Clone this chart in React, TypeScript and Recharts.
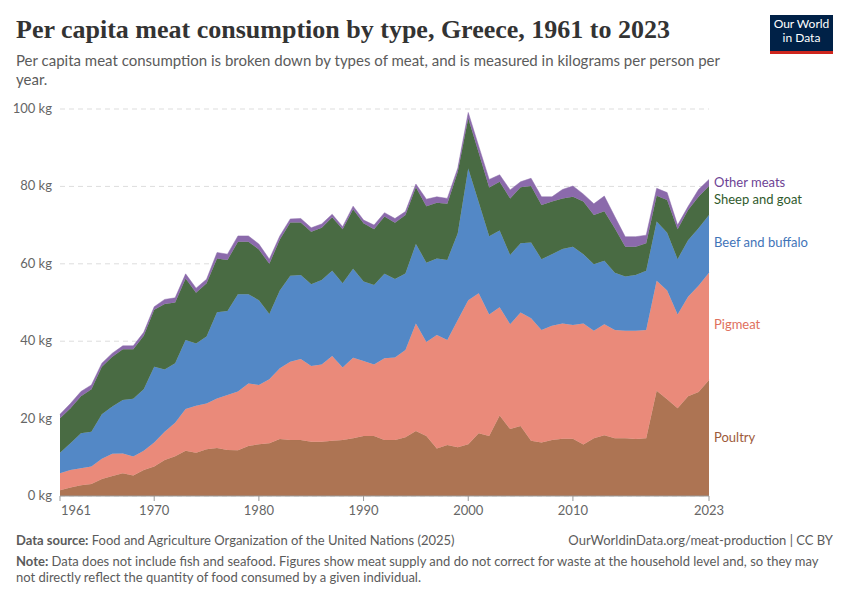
import { AreaChart, Area, XAxis, YAxis, CartesianGrid } from "recharts";

const years = [
  1961, 1962, 1963, 1964, 1965, 1966, 1967, 1968, 1969, 1970,
  1971, 1972, 1973, 1974, 1975, 1976, 1977, 1978, 1979, 1980,
  1981, 1982, 1983, 1984, 1985, 1986, 1987, 1988, 1989, 1990,
  1991, 1992, 1993, 1994, 1995, 1996, 1997, 1998, 1999, 2000,
  2001, 2002, 2003, 2004, 2005, 2006, 2007, 2008, 2009, 2010,
  2011, 2012, 2013, 2014, 2015, 2016, 2017, 2018, 2019, 2020,
  2021, 2022, 2023,
];

// kg per person per year
const poultry = [
  1.5, 2.2, 2.8, 3.1, 4.4, 5.2, 5.9, 5.3, 6.7, 7.6,
  9.3, 10.3, 11.7, 11.2, 12.1, 12.4, 11.9, 11.8, 12.9, 13.4,
  13.6, 14.7, 14.5, 14.5, 14.0, 14.0, 14.3, 14.5, 14.9, 15.5,
  15.5, 14.5, 14.5, 15.2, 16.8, 15.5, 12.3, 13.2, 12.6, 13.4,
  16.2, 15.5, 20.8, 17.3, 18.1, 14.3, 13.8, 14.5, 14.8, 14.8,
  13.3, 14.9, 15.7, 14.9, 14.9, 14.7, 14.9, 27.2, 25.0, 22.7,
  25.8, 26.9, 30.0,
];

const pigmeat = [
  4.4, 4.5, 4.4, 4.5, 5.2, 5.7, 5.1, 4.9, 5.0, 6.2,
  7.3, 8.6, 10.8, 12.1, 11.8, 12.8, 14.2, 15.2, 16.2, 15.3,
  16.6, 18.3, 20.2, 20.9, 19.6, 20.0, 21.9, 18.7, 20.8, 19.4,
  18.5, 21.1, 21.3, 22.5, 27.8, 24.3, 29.3, 27.1, 32.9, 37.2,
  36.2, 31.4, 28.0, 27.1, 29.3, 31.6, 29.1, 29.5, 29.8, 29.4,
  31.3, 27.8, 28.7, 28.0, 27.8, 28.0, 28.0, 28.4, 28.1, 24.2,
  25.7, 27.4, 27.7,
];

const beef = [
  5.3, 6.9, 9.0, 9.0, 11.5, 12.2, 13.8, 14.9, 15.9, 19.6,
  16.1, 15.4, 17.8, 16.1, 17.3, 22.3, 21.7, 25.1, 23.0, 21.9,
  16.8, 20.1, 22.2, 21.7, 21.1, 21.8, 22.0, 21.8, 23.0, 20.5,
  20.5, 21.8, 20.3, 19.8, 20.5, 20.5, 19.8, 20.7, 22.4, 34.0,
  23.5, 20.2, 19.8, 17.9, 17.9, 19.6, 18.3, 18.5, 19.2, 20.2,
  17.9, 17.2, 16.4, 14.8, 14.0, 14.4, 15.3, 15.3, 14.9, 14.3,
  14.6, 14.9, 14.9,
];

const sheepGoat = [
  8.9, 9.1, 9.6, 11.0, 12.3, 12.9, 13.1, 12.8, 13.8, 14.7,
  16.9, 15.7, 15.9, 13.1, 13.8, 13.9, 13.2, 13.6, 13.6, 13.1,
  13.0, 13.2, 13.8, 13.6, 13.6, 13.5, 13.8, 13.9, 15.4, 15.1,
  14.4, 14.8, 14.5, 15.1, 14.7, 14.6, 14.4, 14.5, 15.9, 13.0,
  12.8, 12.6, 12.6, 14.6, 14.5, 14.6, 14.0, 13.6, 13.1, 12.9,
  13.6, 12.7, 12.8, 11.5, 7.7, 7.3, 7.1, 6.7, 8.5, 7.7,
  7.8, 8.1, 7.5,
];

const otherMeats = [
  1.0, 1.2, 1.2, 1.1, 0.9, 0.9, 0.9, 0.9, 0.9, 0.8,
  1.2, 1.2, 1.2, 1.2, 1.0, 1.5, 1.5, 1.5, 1.5, 1.4,
  1.2, 0.9, 0.9, 1.0, 1.0, 1.0, 0.8, 0.7, 0.8, 0.8,
  1.1, 1.0, 1.1, 0.9, 0.8, 1.8, 1.5, 1.4, 0.9, 1.5,
  1.7, 2.1, 1.8, 2.2, 1.4, 2.0, 2.1, 1.2, 2.3, 2.8,
  1.9, 2.9, 3.9, 3.0, 2.6, 2.6, 2.1, 1.9, 1.9, 1.1,
  0.9, 1.9, 1.7,
];

const xTicks = [1961, 1970, 1980, 1990, 2000, 2010, 2023];
const yTicks = [0, 20, 40, 60, 80, 100];

const series = [
  { key: "poultry", name: "Poultry", fill: "#ad7453", text: "#9d5a3a", labelY: 438 },
  { key: "pigmeat", name: "Pigmeat", fill: "#ea8a7a", text: "#e0705d", labelY: 325 },
  { key: "beef", name: "Beef and buffalo", fill: "#5388c6", text: "#3f74b8", labelY: 243 },
  { key: "sheepGoat", name: "Sheep and goat", fill: "#496b43", text: "#2f5a2c", labelY: 200 },
  { key: "otherMeats", name: "Other meats", fill: "#8b6aab", text: "#6d4394", labelY: 183 },
];

const data = years.map((year, i) => ({
  year,
  poultry: poultry[i],
  pigmeat: pigmeat[i],
  beef: beef[i],
  sheepGoat: sheepGoat[i],
  otherMeats: otherMeats[i],
}));

const sans = "Lato, 'Noto Sans', sans-serif";

function YTick({ x, y, payload }: any) {
  return (
    <text x={x} y={y} dy={4} textAnchor="end" fill="#666" fontSize={13} fontFamily={sans}>
      {payload.value} kg
    </text>
  );
}

function XTick({ x, y, payload }: any) {
  // first label sits to the right of its tick, as in the original
  const first = payload.value === xTicks[0];
  return (
    <text
      x={first ? x + 1 : x}
      y={y}
      dy={12}
      textAnchor={first ? "start" : "middle"}
      fill="#666"
      fontSize={13}
      fontFamily={sans}
    >
      {payload.value}
    </text>
  );
}

export default function App() {
  return (
    <div
      style={{
        position: "absolute",
        left: 0,
        top: 0,
        width: 850,
        height: 600,
        background: "#fff",
        fontFamily: sans,
        overflow: "hidden",
      }}
    >
      <div
        style={{
          position: "absolute",
          left: 16,
          top: 15,
          fontFamily: "'Liberation Serif', serif",
          fontSize: 26,
          fontWeight: 700,
          color: "#333",
        }}
      >
        Per capita meat consumption by type, Greece, 1961 to 2023
      </div>
      <div
        style={{
          position: "absolute",
          left: 16,
          top: 51,
          width: 720,
          fontSize: 15,
          lineHeight: "19px",
          color: "#5b5b5b",
        }}
      >
        Per capita meat consumption is broken down by types of meat, and is measured in kilograms per person per
        year.
      </div>
      <div
        style={{
          position: "absolute",
          left: 770,
          top: 15,
          width: 63,
          height: 34,
          background: "#002147",
          borderBottom: "3px solid #ce261e",
          color: "#fff",
          fontSize: 12,
          lineHeight: "14px",
          textAlign: "center",
          paddingTop: 2,
        }}
      >
        <div>Our World</div>
        <div>in Data</div>
      </div>

      <div style={{ position: "absolute", left: 0, top: 0 }}>
        <AreaChart
          width={850}
          height={600}
          data={data}
          margin={{ top: 109, right: 141, bottom: 74, left: 16 }}
        >
          <CartesianGrid vertical={false} stroke="#ddd" strokeDasharray="5 4" />
          <XAxis
            dataKey="year"
            type="number"
            domain={[1961, 2023]}
            ticks={xTicks}
            tick={<XTick />}
            stroke="#999"
            tickSize={5}
            height={30}
          />
          <YAxis
            domain={[0, 100]}
            ticks={yTicks}
            tick={<YTick />}
            axisLine={false}
            tickLine={false}
            width={44}
          />
          {series.map((s) => (
            <Area
              key={s.key}
              type="linear"
              dataKey={s.key}
              name={s.name}
              stackId="1"
              stroke={s.fill}
              strokeWidth={0.5}
              fill={s.fill}
              fillOpacity={1}
              isAnimationActive={false}
            />
          ))}
        </AreaChart>
      </div>

      {series.map((s) => (
        <div
          key={s.key}
          style={{
            position: "absolute",
            left: 714,
            top: s.labelY - 9,
            fontSize: 13,
            color: s.text,
            whiteSpace: "nowrap",
          }}
        >
          {s.name}
        </div>
      ))}

      <div style={{ position: "absolute", left: 16, top: 532, fontSize: 13, color: "#5b5b5b" }}>
        <b>Data source:</b> Food and Agriculture Organization of the United Nations (2025)
      </div>
      <div style={{ position: "absolute", right: 17, top: 532, fontSize: 13, color: "#5b5b5b" }}>
        OurWorldinData.org/meat-production | CC BY
      </div>
      <div
        style={{
          position: "absolute",
          left: 16,
          top: 553,
          fontSize: 13,
          lineHeight: "16px",
          color: "#5b5b5b",
          whiteSpace: "nowrap",
        }}
      >
        <div>
          <b>Note:</b> Data does not include fish and seafood. Figures show meat supply and do not correct for waste
          at the household level and, so they may
        </div>
        <div>not directly reflect the quantity of food consumed by a given individual.</div>
      </div>
    </div>
  );
}
